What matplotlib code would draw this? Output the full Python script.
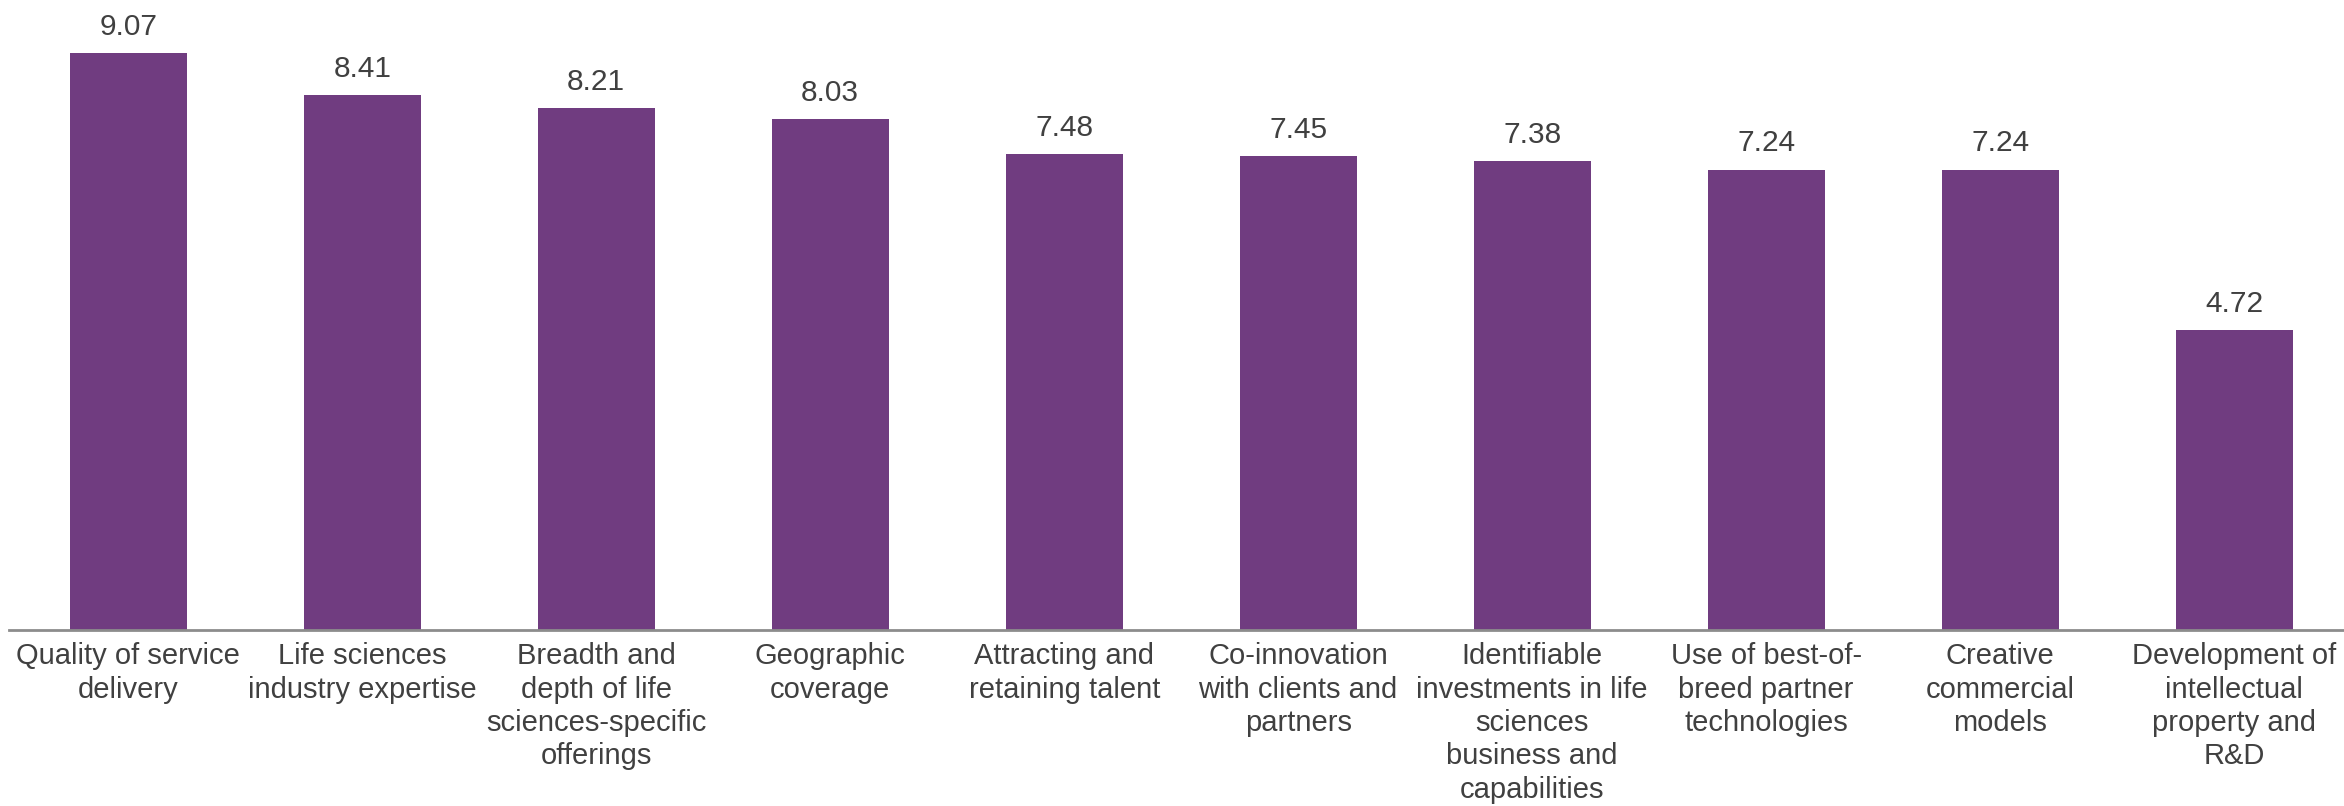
import matplotlib.pyplot as plt

plt.rcParams['font.family'] = ['Liberation Sans', 'DejaVu Sans']

labels = [
    "Quality of service\ndelivery",
    "Life sciences\nindustry expertise",
    "Breadth and\ndepth of life\nsciences-specific\nofferings",
    "Geographic\ncoverage",
    "Attracting and\nretaining talent",
    "Co-innovation\nwith clients and\npartners",
    "Identifiable\ninvestments in life\nsciences\nbusiness and\ncapabilities",
    "Use of best-of-\nbreed partner\ntechnologies",
    "Creative\ncommercial\nmodels",
    "Development of\nintellectual\nproperty and\nR&D",
]
scores = [9.07, 8.41, 8.21, 8.03, 7.48, 7.45, 7.38, 7.24, 7.24, 4.72]

bar_color = "#703c80"
text_color = "#404040"

fig = plt.figure(figsize=(23.44, 8.06), dpi=100)
ax = fig.add_axes([9 / 2344, 176 / 806, 1 - 9 / 2344, 630 / 806])

x = range(len(scores))
bars = ax.bar(x, scores, width=0.5, color=bar_color)

for b, v in zip(bars, scores):
    ax.annotate(f"{v:.2f}", (b.get_x() + b.get_width() / 2, v),
                xytext=(0, 13), textcoords="offset points",
                ha="center", va="baseline", fontsize=21.5, color=text_color)

ax.set_xlim(-0.51, 9.47)
ax.set_ylim(0, 9.906)
ax.set_xticks(list(x))
ax.set_xticklabels(labels, fontsize=21, color=text_color, linespacing=1.24)
ax.tick_params(axis="x", length=0, pad=9)
ax.set_yticks([])

for s in ["top", "right", "left"]:
    ax.spines[s].set_visible(False)
ax.spines["bottom"].set_color("#8c8c8c")
ax.spines["bottom"].set_linewidth(2)

fig.savefig("out.png", dpi=100)
